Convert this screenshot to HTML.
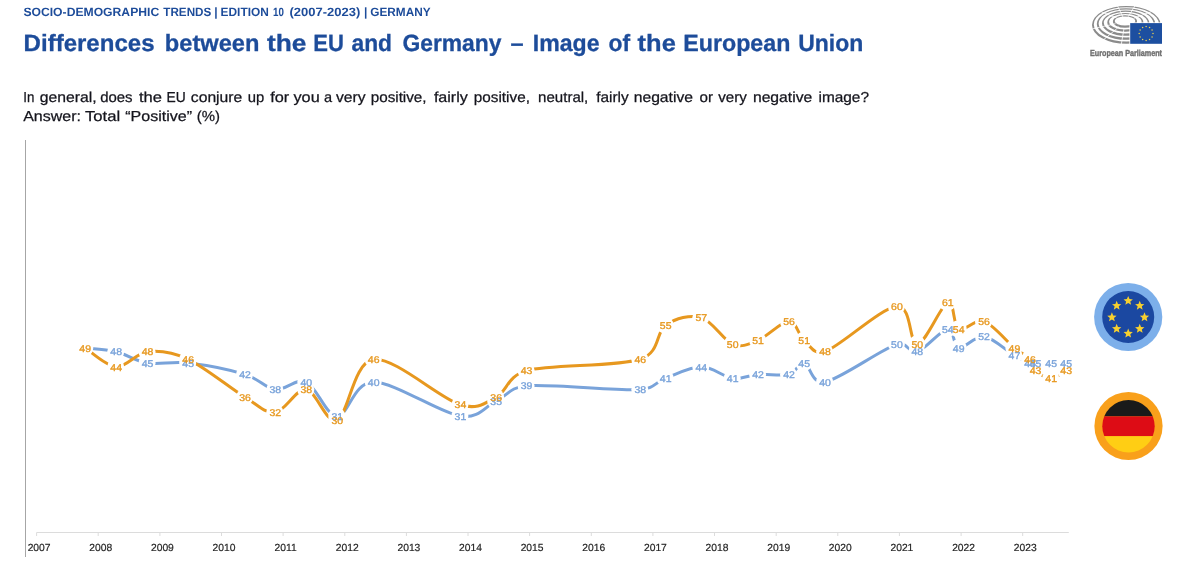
<!DOCTYPE html>
<html lang="en"><head><meta charset="utf-8"><title>Differences between the EU and Germany – Image of the European Union</title>
<style>
html,body{margin:0;padding:0;background:#fff;}
body{width:1180px;height:573px;overflow:hidden;position:relative;font-family:"Liberation Sans",sans-serif;}
svg{position:absolute;left:0;top:0;display:block;}
svg text{font-family:"Liberation Sans",sans-serif;text-rendering:geometricPrecision;}
.hd{font-weight:bold;fill:#1d4c9a;}
.hd2{font-weight:bold;fill:#1d4c9a;stroke:#1d4c9a;stroke-width:0.3px;}
.q{fill:#14141c;stroke:#14141c;stroke-width:0.25px;}
.yr{font-size:10.3px;fill:#262626;stroke:#262626;stroke-width:0.2px;text-anchor:middle;}
.lb text{font-size:9.8px;text-anchor:middle;stroke-width:0.35px;}
</style></head><body>
<svg width="1180" height="573" viewBox="0 0 1180 573">
<g class="hd" font-size="12"><text x="23.4" y="15.9" textLength="135.8" lengthAdjust="spacingAndGlyphs">SOCIO-DEMOGRAPHIC</text><text x="163.3" y="15.9" textLength="48.0" lengthAdjust="spacingAndGlyphs">TRENDS</text><text x="214.3" y="15.9">|</text><text x="220.6" y="15.9" textLength="48.2" lengthAdjust="spacingAndGlyphs">EDITION</text><text x="273.0" y="15.9" textLength="10.9" lengthAdjust="spacingAndGlyphs">10</text><text x="289.4" y="15.9" textLength="70.9" lengthAdjust="spacingAndGlyphs">(2007-2023)</text><text x="364.0" y="15.9">|</text><text x="370.3" y="15.9" textLength="60.3" lengthAdjust="spacingAndGlyphs">GERMANY</text></g>
<g class="hd2" font-size="23.5"><text x="23.6" y="50.7" textLength="130.9" lengthAdjust="spacingAndGlyphs">Differences</text><text x="164.8" y="50.7" textLength="94.7" lengthAdjust="spacingAndGlyphs">between</text><text x="267.0" y="50.7" textLength="39.5" lengthAdjust="spacingAndGlyphs">the</text><text x="313.2" y="50.7" textLength="30.6" lengthAdjust="spacingAndGlyphs">EU</text><text x="351.5" y="50.7" textLength="40.5" lengthAdjust="spacingAndGlyphs">and</text><text x="402.4" y="50.7" textLength="99.1" lengthAdjust="spacingAndGlyphs">Germany</text><text x="510.5" y="50.7">–</text><text x="532.8" y="50.7" textLength="66.7" lengthAdjust="spacingAndGlyphs">Image</text><text x="608.6" y="50.7" textLength="21.6" lengthAdjust="spacingAndGlyphs">of</text><text x="637.6" y="50.7" textLength="38.2" lengthAdjust="spacingAndGlyphs">the</text><text x="683.2" y="50.7" textLength="107.2" lengthAdjust="spacingAndGlyphs">European</text><text x="798.2" y="50.7" textLength="65.1" lengthAdjust="spacingAndGlyphs">Union</text></g>
<g class="q" font-size="14.5"><text x="23.2" y="102.4" textLength="11.1" lengthAdjust="spacingAndGlyphs">In</text><text x="39.8" y="102.4" textLength="56.8" lengthAdjust="spacingAndGlyphs">general,</text><text x="100.2" y="102.4" textLength="32.4" lengthAdjust="spacingAndGlyphs">does</text><text x="139.0" y="102.4" textLength="23.0" lengthAdjust="spacingAndGlyphs">the</text><text x="166.6" y="102.4" textLength="19.2" lengthAdjust="spacingAndGlyphs">EU</text><text x="190.8" y="102.4" textLength="51.5" lengthAdjust="spacingAndGlyphs">conjure</text><text x="247.7" y="102.4" textLength="16.5" lengthAdjust="spacingAndGlyphs">up</text><text x="270.2" y="102.4" textLength="19.0" lengthAdjust="spacingAndGlyphs">for</text><text x="293.5" y="102.4" textLength="26.2" lengthAdjust="spacingAndGlyphs">you</text><text x="324.0" y="102.4">a</text><text x="335.9" y="102.4" textLength="29.6" lengthAdjust="spacingAndGlyphs">very</text><text x="370.7" y="102.4" textLength="55.9" lengthAdjust="spacingAndGlyphs">positive,</text><text x="433.9" y="102.4" textLength="33.9" lengthAdjust="spacingAndGlyphs">fairly</text><text x="473.8" y="102.4" textLength="56.1" lengthAdjust="spacingAndGlyphs">positive,</text><text x="538.1" y="102.4" textLength="50.2" lengthAdjust="spacingAndGlyphs">neutral,</text><text x="596.2" y="102.4" textLength="32.5" lengthAdjust="spacingAndGlyphs">fairly</text><text x="633.7" y="102.4" textLength="59.3" lengthAdjust="spacingAndGlyphs">negative</text><text x="699.6" y="102.4" textLength="13.5" lengthAdjust="spacingAndGlyphs">or</text><text x="718.3" y="102.4" textLength="28.6" lengthAdjust="spacingAndGlyphs">very</text><text x="752.9" y="102.4" textLength="59.4" lengthAdjust="spacingAndGlyphs">negative</text><text x="818.5" y="102.4" textLength="50.5" lengthAdjust="spacingAndGlyphs">image?</text></g>
<g class="q" font-size="14.5"><text x="23.2" y="120.7" textLength="57.8" lengthAdjust="spacingAndGlyphs">Answer:</text><text x="85.0" y="120.7" textLength="35.2" lengthAdjust="spacingAndGlyphs">Total</text><text x="125.2" y="120.7" textLength="66.8" lengthAdjust="spacingAndGlyphs">“Positive”</text><text x="196.8" y="120.7" textLength="23.2" lengthAdjust="spacingAndGlyphs">(%)</text></g>
<line x1="25.5" y1="140" x2="25.5" y2="557" stroke="#a6a6a6" stroke-width="1"/>
<line x1="36.6" y1="532.5" x2="1068.8" y2="532.5" stroke="#dcdcdc" stroke-width="1"/>
<line x1="36.6" y1="532.5" x2="36.6" y2="536" stroke="#dcdcdc" stroke-width="1"/><text class="yr" x="39.1" y="550.8">2007</text>
<line x1="98.2" y1="532.5" x2="98.2" y2="536" stroke="#dcdcdc" stroke-width="1"/><text class="yr" x="100.7" y="550.8">2008</text>
<line x1="159.9" y1="532.5" x2="159.9" y2="536" stroke="#dcdcdc" stroke-width="1"/><text class="yr" x="162.4" y="550.8">2009</text>
<line x1="221.5" y1="532.5" x2="221.5" y2="536" stroke="#dcdcdc" stroke-width="1"/><text class="yr" x="224.0" y="550.8">2010</text>
<line x1="283.1" y1="532.5" x2="283.1" y2="536" stroke="#dcdcdc" stroke-width="1"/><text class="yr" x="285.6" y="550.8">2011</text>
<line x1="344.8" y1="532.5" x2="344.8" y2="536" stroke="#dcdcdc" stroke-width="1"/><text class="yr" x="347.3" y="550.8">2012</text>
<line x1="406.4" y1="532.5" x2="406.4" y2="536" stroke="#dcdcdc" stroke-width="1"/><text class="yr" x="408.9" y="550.8">2013</text>
<line x1="468.0" y1="532.5" x2="468.0" y2="536" stroke="#dcdcdc" stroke-width="1"/><text class="yr" x="470.5" y="550.8">2014</text>
<line x1="529.6" y1="532.5" x2="529.6" y2="536" stroke="#dcdcdc" stroke-width="1"/><text class="yr" x="532.1" y="550.8">2015</text>
<line x1="591.3" y1="532.5" x2="591.3" y2="536" stroke="#dcdcdc" stroke-width="1"/><text class="yr" x="593.8" y="550.8">2016</text>
<line x1="652.9" y1="532.5" x2="652.9" y2="536" stroke="#dcdcdc" stroke-width="1"/><text class="yr" x="655.4" y="550.8">2017</text>
<line x1="714.5" y1="532.5" x2="714.5" y2="536" stroke="#dcdcdc" stroke-width="1"/><text class="yr" x="717.0" y="550.8">2018</text>
<line x1="776.2" y1="532.5" x2="776.2" y2="536" stroke="#dcdcdc" stroke-width="1"/><text class="yr" x="778.7" y="550.8">2019</text>
<line x1="837.8" y1="532.5" x2="837.8" y2="536" stroke="#dcdcdc" stroke-width="1"/><text class="yr" x="840.3" y="550.8">2020</text>
<line x1="899.4" y1="532.5" x2="899.4" y2="536" stroke="#dcdcdc" stroke-width="1"/><text class="yr" x="901.9" y="550.8">2021</text>
<line x1="961.1" y1="532.5" x2="961.1" y2="536" stroke="#dcdcdc" stroke-width="1"/><text class="yr" x="963.6" y="550.8">2022</text>
<line x1="1022.7" y1="532.5" x2="1022.7" y2="536" stroke="#dcdcdc" stroke-width="1"/><text class="yr" x="1025.2" y="550.8">2023</text>
<path d="M85.20,347.90 C90.37,348.53 105.80,349.16 116.20,351.69 C126.60,354.22 135.60,361.17 147.60,363.06 C159.60,364.95 171.97,361.17 188.20,363.06 C204.43,364.95 230.48,370.01 245.00,374.43 C259.52,378.85 265.08,388.33 275.30,389.59 C285.52,390.85 295.97,377.59 306.30,382.01 C316.63,386.43 326.07,416.12 337.30,416.12 C348.53,416.12 353.18,382.01 373.70,382.01 C394.22,382.01 439.98,412.96 460.40,416.12 C479.61,419.09 485.17,406.01 496.20,400.96 C507.23,395.91 509.67,387.14 526.60,385.80 C550.62,383.90 617.12,390.85 640.30,389.59 C654.19,388.83 655.53,382.01 665.70,378.22 C675.87,374.43 690.13,366.85 701.30,366.85 C712.47,366.85 723.23,376.96 732.70,378.22 C742.17,379.48 748.72,375.06 758.10,374.43 C767.48,373.80 781.32,376.32 789.00,374.43 C796.68,372.53 798.18,361.80 804.20,363.06 C810.22,364.32 811.28,384.84 825.10,382.01 C840.55,378.85 881.53,349.16 896.90,344.11 C907.24,340.71 908.82,354.22 917.30,351.69 C925.78,349.16 940.90,329.58 947.80,328.95 C954.70,328.32 952.67,346.64 958.70,347.90 C964.73,349.16 974.72,335.27 984.00,336.53 C993.28,337.79 1006.73,351.06 1014.40,355.48 C1021.91,359.81 1026.48,361.80 1030.00,363.06 C1032.59,363.99 1032.75,363.06 1035.50,363.06 C1039.03,363.06 1046.08,363.06 1051.20,363.06 C1056.32,363.06 1063.70,363.06 1066.20,363.06" fill="none" stroke="#79a3da" stroke-width="3.0" stroke-linecap="round" stroke-linejoin="round"/>
<path d="M85.20,347.90 C90.37,351.06 105.80,366.22 116.20,366.85 C126.60,367.48 135.60,352.95 147.60,351.69 C159.60,350.43 171.97,351.69 188.20,359.27 C204.43,366.85 230.48,388.33 245.00,397.17 C259.47,405.98 265.08,413.59 275.30,412.33 C285.52,411.07 295.97,388.33 306.30,389.59 C316.63,390.85 326.07,424.96 337.30,419.91 C348.53,414.86 353.18,361.80 373.70,359.27 C394.22,356.74 439.98,398.43 460.40,404.75 C477.88,410.16 485.17,402.85 496.20,397.17 C507.23,391.48 507.09,375.77 526.60,370.64 C550.62,364.32 617.12,366.85 640.30,359.27 C660.51,352.66 655.53,332.11 665.70,325.16 C675.87,318.21 690.13,314.42 701.30,317.58 C712.47,320.74 723.23,340.32 732.70,344.11 C742.17,347.90 748.72,344.11 758.10,340.32 C767.48,336.53 781.32,321.37 789.00,321.37 C796.68,321.37 798.18,335.27 804.20,340.32 C810.22,345.37 813.94,355.80 825.10,351.69 C840.55,346.00 881.53,307.47 896.90,306.21 C912.27,304.95 908.82,344.74 917.30,344.11 C925.78,343.48 940.90,304.95 947.80,302.42 C954.70,299.89 952.67,325.79 958.70,328.95 C964.73,332.11 974.72,318.21 984.00,321.37 C993.28,324.53 1006.73,341.58 1014.40,347.90 C1021.85,354.04 1026.48,355.48 1030.00,359.27 C1033.52,363.06 1031.97,367.48 1035.50,370.64 C1039.03,373.80 1046.08,378.22 1051.20,378.22 C1056.32,378.22 1063.70,371.90 1066.20,370.64" fill="none" stroke="#e7981f" stroke-width="3.0" stroke-linecap="round" stroke-linejoin="round"/>
<g class="lb">
<circle cx="84.7" cy="347.9" r="8.5" fill="#fff"/><circle cx="115.7" cy="351.7" r="8.5" fill="#fff"/><circle cx="147.1" cy="363.1" r="8.5" fill="#fff"/><circle cx="187.7" cy="363.1" r="8.5" fill="#fff"/><circle cx="244.5" cy="374.4" r="8.5" fill="#fff"/><circle cx="274.8" cy="389.6" r="8.5" fill="#fff"/><circle cx="305.8" cy="382.0" r="8.5" fill="#fff"/><circle cx="336.8" cy="416.1" r="8.5" fill="#fff"/><circle cx="373.2" cy="382.0" r="8.5" fill="#fff"/><circle cx="459.9" cy="416.1" r="8.5" fill="#fff"/><circle cx="495.7" cy="401.0" r="8.5" fill="#fff"/><circle cx="526.1" cy="385.8" r="8.5" fill="#fff"/><circle cx="639.8" cy="389.6" r="8.5" fill="#fff"/><circle cx="665.2" cy="378.2" r="8.5" fill="#fff"/><circle cx="700.8" cy="366.8" r="8.5" fill="#fff"/><circle cx="732.2" cy="378.2" r="8.5" fill="#fff"/><circle cx="757.6" cy="374.4" r="8.5" fill="#fff"/><circle cx="788.5" cy="374.4" r="8.5" fill="#fff"/><circle cx="803.7" cy="363.1" r="8.5" fill="#fff"/><circle cx="824.6" cy="382.0" r="8.5" fill="#fff"/><circle cx="896.4" cy="344.1" r="8.5" fill="#fff"/><circle cx="916.8" cy="351.7" r="8.5" fill="#fff"/><circle cx="947.3" cy="328.9" r="8.5" fill="#fff"/><circle cx="958.2" cy="347.9" r="8.5" fill="#fff"/><circle cx="983.5" cy="336.5" r="8.5" fill="#fff"/><circle cx="1013.9" cy="355.5" r="8.5" fill="#fff"/><circle cx="1029.5" cy="363.1" r="8.5" fill="#fff"/><circle cx="1035.0" cy="363.1" r="8.5" fill="#fff"/><circle cx="1050.7" cy="363.1" r="8.5" fill="#fff"/><circle cx="1065.7" cy="363.1" r="8.5" fill="#fff"/>
<circle cx="84.7" cy="347.9" r="8.5" fill="#fff"/><circle cx="115.7" cy="366.8" r="8.5" fill="#fff"/><circle cx="147.1" cy="351.7" r="8.5" fill="#fff"/><circle cx="187.7" cy="359.3" r="8.5" fill="#fff"/><circle cx="244.5" cy="397.2" r="8.5" fill="#fff"/><circle cx="274.8" cy="412.3" r="8.5" fill="#fff"/><circle cx="305.8" cy="389.6" r="8.5" fill="#fff"/><circle cx="336.8" cy="419.9" r="8.5" fill="#fff"/><circle cx="373.2" cy="359.3" r="8.5" fill="#fff"/><circle cx="459.9" cy="404.8" r="8.5" fill="#fff"/><circle cx="495.7" cy="397.2" r="8.5" fill="#fff"/><circle cx="526.1" cy="370.6" r="8.5" fill="#fff"/><circle cx="639.8" cy="359.3" r="8.5" fill="#fff"/><circle cx="665.2" cy="325.2" r="8.5" fill="#fff"/><circle cx="700.8" cy="317.6" r="8.5" fill="#fff"/><circle cx="732.2" cy="344.1" r="8.5" fill="#fff"/><circle cx="757.6" cy="340.3" r="8.5" fill="#fff"/><circle cx="788.5" cy="321.4" r="8.5" fill="#fff"/><circle cx="803.7" cy="340.3" r="8.5" fill="#fff"/><circle cx="824.6" cy="351.7" r="8.5" fill="#fff"/><circle cx="896.4" cy="306.2" r="8.5" fill="#fff"/><circle cx="916.8" cy="344.1" r="8.5" fill="#fff"/><circle cx="947.3" cy="302.4" r="8.5" fill="#fff"/><circle cx="958.2" cy="328.9" r="8.5" fill="#fff"/><circle cx="983.5" cy="321.4" r="8.5" fill="#fff"/><circle cx="1013.9" cy="347.9" r="8.5" fill="#fff"/><circle cx="1029.5" cy="359.3" r="8.5" fill="#fff"/><circle cx="1035.0" cy="370.6" r="8.5" fill="#fff"/><circle cx="1050.7" cy="378.2" r="8.5" fill="#fff"/><circle cx="1065.7" cy="370.6" r="8.5" fill="#fff"/>
<g fill="#79a3da" stroke="#79a3da"><text transform="translate(116.2 355.3) scale(1.07 1)">48</text><text transform="translate(147.6 366.7) scale(1.07 1)">45</text><text transform="translate(188.2 366.7) scale(1.07 1)">45</text><text transform="translate(245.0 378.1) scale(1.07 1)">42</text><text transform="translate(275.3 393.2) scale(1.07 1)">38</text><text transform="translate(306.3 385.7) scale(1.07 1)">40</text><text transform="translate(337.3 419.8) scale(1.07 1)">31</text><text transform="translate(373.7 385.7) scale(1.07 1)">40</text><text transform="translate(460.4 419.8) scale(1.07 1)">31</text><text transform="translate(496.2 404.6) scale(1.07 1)">35</text><text transform="translate(526.6 389.4) scale(1.07 1)">39</text><text transform="translate(640.3 393.2) scale(1.07 1)">38</text><text transform="translate(665.7 381.9) scale(1.07 1)">41</text><text transform="translate(701.3 370.5) scale(1.07 1)">44</text><text transform="translate(732.7 381.9) scale(1.07 1)">41</text><text transform="translate(758.1 378.1) scale(1.07 1)">42</text><text transform="translate(789.0 378.1) scale(1.07 1)">42</text><text transform="translate(804.2 366.7) scale(1.07 1)">45</text><text transform="translate(825.1 385.7) scale(1.07 1)">40</text><text transform="translate(896.9 347.8) scale(1.07 1)">50</text><text transform="translate(917.3 355.3) scale(1.07 1)">48</text><text transform="translate(947.8 332.6) scale(1.07 1)">54</text><text transform="translate(958.7 351.5) scale(1.07 1)">49</text><text transform="translate(984.0 340.2) scale(1.07 1)">52</text><text transform="translate(1014.4 359.1) scale(1.07 1)">47</text><text transform="translate(1030.0 366.7) scale(1.07 1)">45</text><text transform="translate(1035.5 366.7) scale(1.07 1)">45</text><text transform="translate(1051.2 366.7) scale(1.07 1)">45</text><text transform="translate(1066.2 366.7) scale(1.07 1)">45</text></g>
<g fill="#e7981f" stroke="#e7981f"><text transform="translate(85.2 351.5) scale(1.07 1)">49</text><text transform="translate(116.2 370.5) scale(1.07 1)">44</text><text transform="translate(147.6 355.3) scale(1.07 1)">48</text><text transform="translate(188.2 362.9) scale(1.07 1)">46</text><text transform="translate(245.0 400.8) scale(1.07 1)">36</text><text transform="translate(275.3 416.0) scale(1.07 1)">32</text><text transform="translate(306.3 393.2) scale(1.07 1)">38</text><text transform="translate(337.3 423.6) scale(1.07 1)">30</text><text transform="translate(373.7 362.9) scale(1.07 1)">46</text><text transform="translate(460.4 408.4) scale(1.07 1)">34</text><text transform="translate(496.2 400.8) scale(1.07 1)">36</text><text transform="translate(526.6 374.3) scale(1.07 1)">43</text><text transform="translate(640.3 362.9) scale(1.07 1)">46</text><text transform="translate(665.7 328.8) scale(1.07 1)">55</text><text transform="translate(701.3 321.2) scale(1.07 1)">57</text><text transform="translate(732.7 347.8) scale(1.07 1)">50</text><text transform="translate(758.1 344.0) scale(1.07 1)">51</text><text transform="translate(789.0 325.0) scale(1.07 1)">56</text><text transform="translate(804.2 344.0) scale(1.07 1)">51</text><text transform="translate(825.1 355.3) scale(1.07 1)">48</text><text transform="translate(896.9 309.9) scale(1.07 1)">60</text><text transform="translate(917.3 347.8) scale(1.07 1)">50</text><text transform="translate(947.8 306.1) scale(1.07 1)">61</text><text transform="translate(958.7 332.6) scale(1.07 1)">54</text><text transform="translate(984.0 325.0) scale(1.07 1)">56</text><text transform="translate(1014.4 351.5) scale(1.07 1)">49</text><text transform="translate(1030.0 362.9) scale(1.07 1)">46</text><text transform="translate(1035.5 374.3) scale(1.07 1)">43</text><text transform="translate(1051.2 381.9) scale(1.07 1)">41</text><text transform="translate(1066.2 374.3) scale(1.07 1)">43</text></g>
</g>
<circle cx="1128.2" cy="317.0" r="34.1" fill="#7cafea"/><circle cx="1128.2" cy="317.0" r="26" fill="#1b48a1"/>
<polygon points="1128.20,296.00 1129.49,299.12 1132.86,299.39 1130.29,301.58 1131.08,304.86 1128.20,303.10 1125.32,304.86 1126.11,301.58 1123.54,299.39 1126.91,299.12" fill="#f7d02f"/><polygon points="1139.73,300.77 1141.02,303.89 1144.39,304.16 1141.82,306.35 1142.61,309.64 1139.73,307.87 1136.85,309.64 1137.63,306.35 1135.07,304.16 1138.43,303.89" fill="#f7d02f"/><polygon points="1144.50,312.30 1145.79,315.42 1149.16,315.69 1146.59,317.88 1147.38,321.16 1144.50,319.40 1141.62,321.16 1142.41,317.88 1139.84,315.69 1143.21,315.42" fill="#f7d02f"/><polygon points="1139.73,323.83 1141.02,326.95 1144.39,327.21 1141.82,329.41 1142.61,332.69 1139.73,330.93 1136.85,332.69 1137.63,329.41 1135.07,327.21 1138.43,326.95" fill="#f7d02f"/><polygon points="1128.20,328.60 1129.49,331.72 1132.86,331.99 1130.29,334.18 1131.08,337.46 1128.20,335.70 1125.32,337.46 1126.11,334.18 1123.54,331.99 1126.91,331.72" fill="#f7d02f"/><polygon points="1116.67,323.83 1117.97,326.95 1121.33,327.21 1118.77,329.41 1119.55,332.69 1116.67,330.93 1113.79,332.69 1114.58,329.41 1112.01,327.21 1115.38,326.95" fill="#f7d02f"/><polygon points="1111.90,312.30 1113.19,315.42 1116.56,315.69 1113.99,317.88 1114.78,321.16 1111.90,319.40 1109.02,321.16 1109.81,317.88 1107.24,315.69 1110.61,315.42" fill="#f7d02f"/><polygon points="1116.67,300.77 1117.97,303.89 1121.33,304.16 1118.77,306.35 1119.55,309.64 1116.67,307.87 1113.79,309.64 1114.58,306.35 1112.01,304.16 1115.38,303.89" fill="#f7d02f"/>
<circle cx="1128.5" cy="426.0" r="34.1" fill="#f9a01b"/>
<clipPath id="dc"><circle cx="1128.5" cy="426.2" r="26.2"/></clipPath><g clip-path="url(#dc)"><rect x="1100" y="398" width="60" height="18.4" fill="#1a1a1a"/><rect x="1100" y="416.4" width="60" height="19.8" fill="#dd0c15"/><rect x="1100" y="436.2" width="60" height="20" fill="#ffce14"/></g>
<g id="eplogo"><path d="M1092.00,24.93 a34.40,18.93 0 1,0 68.80,0 a34.40,18.93 0 1,0 -68.80,0Z M1093.80,24.38 a32.60,17.18 0 1,0 65.20,0 a32.60,17.18 0 1,0 -65.20,0Z M1096.80,24.07 a29.25,15.78 0 1,0 58.50,0 a29.25,15.78 0 1,0 -58.50,0Z M1098.60,23.53 a27.45,14.03 0 1,0 54.90,0 a27.45,14.03 0 1,0 -54.90,0Z M1102.00,23.23 a23.70,12.62 0 1,0 47.40,0 a23.70,12.62 0 1,0 -47.40,0Z M1103.80,22.68 a21.90,10.88 0 1,0 43.80,0 a21.90,10.88 0 1,0 -43.80,0Z M1107.30,22.38 a18.05,9.48 0 1,0 36.10,0 a18.05,9.48 0 1,0 -36.10,0Z M1109.10,21.83 a16.25,7.73 0 1,0 32.50,0 a16.25,7.73 0 1,0 -32.50,0Z M1112.90,21.52 a12.10,6.33 0 1,0 24.20,0 a12.10,6.33 0 1,0 -24.20,0Z M1114.70,20.98 a10.30,4.58 0 1,0 20.60,0 a10.30,4.58 0 1,0 -20.60,0Z " fill="#8b8b8b" fill-rule="evenodd"/><line x1="1123.13" y1="17.30" x2="1117.26" y2="5.40" stroke="#fff" stroke-width="0.8"/><line x1="1128.20" y1="16.70" x2="1136.70" y2="3.10" stroke="#fff" stroke-width="0.8"/><line x1="1117.49" y1="18.35" x2="1095.64" y2="9.43" stroke="#fff" stroke-width="0.8"/><line x1="1115.54" y1="23.69" x2="1088.17" y2="29.89" stroke="#fff" stroke-width="0.8"/><line x1="1118.99" y1="26.75" x2="1101.39" y2="41.62" stroke="#fff" stroke-width="0.8"/><line x1="1124.00" y1="28.55" x2="1120.60" y2="48.52" stroke="#fff" stroke-width="0.8"/><line x1="1133.54" y1="18.35" x2="1157.17" y2="9.43" stroke="#fff" stroke-width="0.8"/><rect x="1129.4" y="22.4" width="33" height="21.8" fill="#fff"/><rect x="1130.2" y="23.1" width="31.8" height="20.7" fill="#1d4fa0"/><circle cx="1153.00" cy="33.50" r="0.75" fill="#e9cf52"/><circle cx="1152.08" cy="36.95" r="0.75" fill="#e9cf52"/><circle cx="1149.55" cy="39.48" r="0.75" fill="#e9cf52"/><circle cx="1146.10" cy="40.40" r="0.75" fill="#e9cf52"/><circle cx="1142.65" cy="39.48" r="0.75" fill="#e9cf52"/><circle cx="1140.12" cy="36.95" r="0.75" fill="#e9cf52"/><circle cx="1139.20" cy="33.50" r="0.75" fill="#e9cf52"/><circle cx="1140.12" cy="30.05" r="0.75" fill="#e9cf52"/><circle cx="1142.65" cy="27.52" r="0.75" fill="#e9cf52"/><circle cx="1146.10" cy="26.60" r="0.75" fill="#e9cf52"/><circle cx="1149.55" cy="27.52" r="0.75" fill="#e9cf52"/><circle cx="1152.08" cy="30.05" r="0.75" fill="#e9cf52"/><text x="1090" y="55.6" font-size="8.8" font-weight="bold" fill="#707070" stroke="#707070" stroke-width="0.4" textLength="72" lengthAdjust="spacingAndGlyphs">European Parliament</text></g>
</svg></body></html>
